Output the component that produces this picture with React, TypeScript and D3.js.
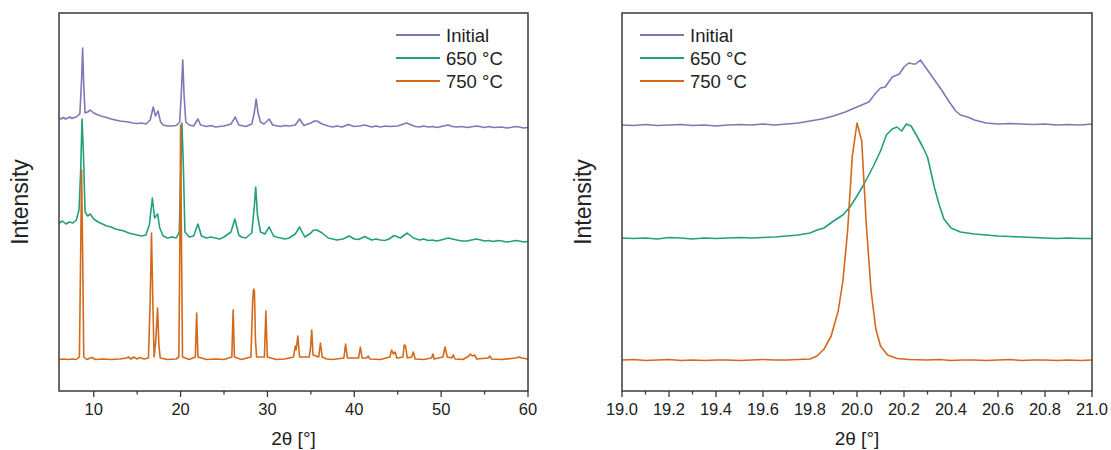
import React, { useRef, useEffect } from 'react';
import * as d3 from 'd3';

type Pt = [number, number];

// Full pattern, 2θ (deg) vs intensity (a.u., curves stacked)
const wideInitial: Pt[] = [
  [6.0, 273], [6.25, 272], [6.5, 273.5], [6.75, 272], [7.0, 273], [7.25, 274], [7.5, 272.5], [7.75, 273.5],
  [8.0, 274], [8.4, 277], [8.6, 311], [8.72, 343], [8.85, 306], [9.0, 278], [9.3, 279], [9.6, 281],
  [10.0, 278], [10.5, 276], [11.0, 274.5], [11.5, 273.5], [12.0, 272], [12.5, 271], [13.0, 270],
  [13.5, 269.5], [14.0, 269], [14.5, 268], [15.0, 267.5], [15.5, 268], [16.0, 267], [16.5, 271],
  [16.85, 284], [17.1, 275], [17.4, 280], [17.7, 269], [18.0, 266], [18.5, 265], [19.0, 265],
  [19.5, 265.5], [19.9, 269], [20.1, 301], [20.25, 331], [20.4, 296], [20.6, 269], [21.0, 266],
  [21.5, 265], [22.0, 272], [22.3, 266], [23.0, 264.5], [23.5, 265.5], [24.0, 264], [25.0, 265],
  [25.8, 267], [26.3, 274], [26.7, 266], [27.5, 264.5], [28.2, 267], [28.5, 279], [28.7, 292],
  [28.9, 279], [29.2, 269], [29.6, 267], [30.2, 272], [30.6, 266], [31.5, 264.5], [32.0, 265.5],
  [32.5, 265], [33.2, 266], [33.7, 272], [34.2, 265.5], [35.0, 268], [35.4, 270], [35.7, 270],
  [36.3, 267], [37.0, 265], [37.5, 264], [38.0, 265], [38.6, 264], [39.3, 266.5], [40.0, 264.5],
  [40.6, 265], [41.2, 266], [42.0, 264], [42.5, 265], [43.0, 264], [43.6, 265], [44.0, 264.5],
  [45.0, 265], [46.0, 268], [46.6, 266], [47.0, 264.5], [47.5, 264], [48.0, 265], [48.5, 264],
  [49.0, 264.5], [49.5, 263.5], [50.8, 266], [51.3, 264.5], [51.8, 264], [52.4, 264.5],
  [53.0, 263.5], [54.1, 265], [55.0, 263.5], [55.5, 264.5], [56.0, 263.5], [57.0, 264],
  [57.5, 263], [58.0, 263.5], [58.5, 264.5], [59.0, 264], [59.5, 263], [60.0, 263.5],
];

const wide650: Pt[] = [
  [6.0, 168], [6.4, 170], [6.8, 167], [7.2, 169], [7.6, 168], [8.0, 171], [8.3, 181], [8.5, 221],
  [8.65, 272], [8.8, 241], [9.0, 179], [9.3, 175], [9.6, 177], [10.0, 172], [10.5, 169], [11.0, 167],
  [11.5, 165], [12.0, 164], [12.5, 162], [13.0, 161], [13.5, 160], [14.0, 158], [14.5, 157],
  [15.0, 156], [15.5, 155], [16.0, 156], [16.4, 166], [16.75, 193], [17.0, 173], [17.35, 177],
  [17.6, 163], [18.0, 155], [18.5, 153], [19.0, 154], [19.5, 153], [19.85, 159], [20.05, 231],
  [20.15, 268], [20.3, 231], [20.5, 159], [21.0, 154], [21.5, 155], [22.0, 167], [22.4, 155],
  [23.0, 153], [23.5, 154], [24.0, 153], [24.5, 152], [25.0, 154], [25.8, 159], [26.25, 172],
  [26.7, 156], [27.0, 154], [27.5, 153], [28.2, 158], [28.5, 186], [28.65, 204], [28.85, 176],
  [29.2, 159], [29.7, 157], [30.2, 164], [30.7, 155], [31.0, 154], [31.5, 153], [32.0, 152],
  [32.5, 153], [33.2, 157], [33.7, 164], [34.3, 154], [35.0, 158], [35.3, 161], [35.7, 161],
  [36.3, 158], [37.0, 153], [37.5, 152], [38.0, 151], [38.7, 152], [39.4, 155], [40.0, 152],
  [40.5, 151.5], [41.2, 154.5], [42.0, 151], [42.5, 152], [43.0, 151], [43.5, 150.5], [44.0, 152],
  [44.6, 155.5], [45.3, 153], [46.1, 158], [46.8, 153], [47.5, 151], [48.0, 152], [48.5, 150.5],
  [49.0, 151], [49.5, 150], [50.2, 151.5], [50.8, 153], [51.3, 152], [51.8, 151], [52.4, 150],
  [53.0, 150], [53.5, 151], [54.1, 152], [55.0, 150], [55.5, 150.5], [56.0, 149.5], [56.5, 150.5],
  [57.0, 150], [57.5, 149], [58.0, 149.5], [58.5, 150.5], [59.0, 150], [59.5, 149], [60.0, 149.5],
];

const wide750: Pt[] = [
  [6.0, 31.5], [6.5, 32], [7.0, 31.5], [7.5, 32], [8.0, 31.5], [8.35, 34], [8.5, 141], [8.6, 221],
  [8.72, 141], [8.85, 34], [9.2, 31.5], [9.77, 33.5], [10.2, 31.5], [11.0, 32], [12.0, 31.5],
  [13.0, 32], [13.8, 33], [14.0, 34], [14.3, 32], [14.6, 34], [15.0, 32], [15.3, 33.5], [15.8, 32],
  [16.3, 33], [16.5, 91], [16.65, 158], [16.8, 91], [16.95, 34], [17.15, 51], [17.35, 83],
  [17.5, 46], [17.65, 33], [18.5, 31.5], [19.5, 32], [19.8, 34], [19.92, 151], [20.0, 266],
  [20.1, 151], [20.22, 34], [21.0, 31.5], [21.7, 34], [21.85, 78], [22.0, 34], [23.0, 31.5],
  [24.0, 32], [25.0, 31.5], [25.9, 34], [26.05, 81], [26.2, 34], [27.0, 31.5], [28.1, 34],
  [28.3, 91], [28.4, 102], [28.5, 100], [28.62, 51], [28.75, 34], [29.65, 34], [29.82, 80],
  [29.98, 34], [31.0, 31.5], [32.0, 32], [33.0, 34], [33.2, 45], [33.3, 41], [33.5, 55], [33.7, 34],
  [34.8, 34], [34.95, 42], [35.1, 61], [35.25, 36], [35.9, 34], [36.1, 48], [36.3, 34], [36.8, 32],
  [37.5, 31.5], [38.8, 33], [39.0, 47], [39.2, 33], [40.5, 33], [40.7, 44], [40.9, 33], [41.4, 33],
  [41.6, 35], [41.8, 32], [43.0, 31.5], [44.1, 34], [44.3, 41], [44.5, 37], [44.7, 39], [44.9, 33],
  [45.6, 34], [45.75, 46], [45.9, 45], [46.1, 33], [46.6, 34], [46.8, 39], [47.0, 32], [48.0, 31.5],
  [48.9, 33], [49.05, 37], [49.2, 32], [50.2, 34], [50.45, 44], [50.7, 34], [51.2, 33], [51.4, 36],
  [51.6, 32], [52.5, 31.5], [53.2, 35], [53.35, 37], [53.6, 35], [53.85, 36], [54.1, 32], [55.4, 33],
  [55.6, 35], [55.8, 32], [57.0, 31.5], [58.6, 33], [58.95, 34], [59.3, 33], [60.0, 32],
];

// Zoom on the 20° reflection
const zoomInitial: Pt[] = [
  [19.0, 266], [19.05, 265.5], [19.1, 266.5], [19.15, 265.5], [19.2, 266], [19.25, 266.5],
  [19.3, 265.5], [19.35, 266], [19.4, 265], [19.45, 266], [19.5, 266.5], [19.55, 266], [19.6, 267],
  [19.65, 266], [19.7, 267], [19.75, 268], [19.8, 270], [19.85, 272], [19.9, 275], [19.95, 279],
  [20.0, 284], [20.05, 289], [20.08, 298], [20.1, 303], [20.12, 304], [20.15, 314], [20.18, 317],
  [20.2, 324], [20.22, 328], [20.24, 327], [20.25, 327], [20.27, 331], [20.3, 321], [20.33, 311],
  [20.36, 301], [20.39, 290], [20.42, 280], [20.44, 276], [20.47, 274], [20.5, 271], [20.55, 268],
  [20.6, 267], [20.65, 267.5], [20.7, 267], [20.75, 266.5], [20.8, 267], [20.85, 266],
  [20.9, 266.5], [20.95, 266], [21.0, 267],
];

const zoom650: Pt[] = [
  [19.0, 153], [19.05, 152.5], [19.1, 153], [19.15, 152], [19.2, 153.5], [19.25, 153], [19.3, 152],
  [19.35, 153], [19.4, 152.5], [19.45, 153], [19.5, 153.5], [19.55, 153], [19.6, 153.5],
  [19.65, 154], [19.7, 155], [19.75, 156], [19.8, 158], [19.83, 161], [19.86, 163], [19.9, 170],
  [19.94, 176], [19.97, 184], [20.0, 195], [20.03, 207], [20.07, 225], [20.1, 240], [20.125, 256],
  [20.15, 262], [20.17, 264], [20.19, 260], [20.21, 267], [20.23, 265], [20.25, 257], [20.28, 244],
  [20.3, 234], [20.33, 203], [20.35, 186], [20.37, 172], [20.4, 163], [20.44, 159], [20.5, 157],
  [20.55, 156], [20.6, 155], [20.65, 154.5], [20.7, 154], [20.75, 153.5], [20.8, 153],
  [20.85, 152.5], [20.9, 153], [20.95, 152.5], [21.0, 152.5],
];

const zoom750: Pt[] = [
  [19.0, 31], [19.05, 31.5], [19.1, 30.5], [19.15, 31], [19.2, 31.5], [19.25, 30.5], [19.3, 31],
  [19.35, 30.5], [19.4, 31], [19.45, 31], [19.5, 30.5], [19.55, 31], [19.6, 31.5], [19.65, 31],
  [19.7, 31], [19.75, 31.5], [19.8, 32], [19.83, 35], [19.86, 42], [19.89, 55], [19.92, 80],
  [19.94, 110], [19.96, 160], [19.98, 235], [20.0, 268], [20.02, 250], [20.04, 165], [20.06, 100],
  [20.08, 62], [20.1, 45], [20.13, 36], [20.17, 32.5], [20.22, 31.5], [20.3, 31], [20.35, 31.5],
  [20.4, 30.5], [20.45, 31], [20.5, 31], [20.55, 30.5], [20.6, 31], [20.65, 31.5], [20.7, 30.5],
  [20.75, 31], [20.8, 31], [20.85, 30.5], [20.9, 31], [20.95, 30.5], [21.0, 31],
];

const seriesNames = ['Initial', '650 °C', '750 °C'];
const wideTicks = [10, 20, 30, 40, 50, 60];
const wideMinorTicks = [15, 25, 35, 45, 55];
const zoomTicks = [19.0, 19.2, 19.4, 19.6, 19.8, 20.0, 20.2, 20.4, 20.6, 20.8, 21.0];
const zoomMinorTicks = [19.1, 19.3, 19.5, 19.7, 19.9, 20.1, 20.3, 20.5, 20.7, 20.9];

const COLORS = ['#7f78b6', '#22a07c', '#d4691c'];
const FONT = '"Liberation Sans", Arial, sans-serif';
const AXIS = '#3a3a3a';

type PanelOpts = {
  left: number;
  right: number;
  domain: [number, number];
  series: Pt[][];
  ticks: number[];
  minor: number[];
  fmt: (v: number) => string;
  legendX: number;
};

const TOP = 13;
const BOTTOM = 391;

function drawPanel(svg: d3.Selection<SVGSVGElement, unknown, null, undefined>, o: PanelOpts) {
  const x = d3.scaleLinear().domain(o.domain).range([o.left, o.right]);
  const y = d3.scaleLinear().domain([0, 378]).range([BOTTOM, TOP]);
  const g = svg.append('g');

  const line = d3.line<Pt>()
    .x(d => x(d[0]))
    .y(d => y(d[1]));

  o.series.forEach((s, i) => {
    g.append('path')
      .datum(s)
      .attr('d', line)
      .attr('fill', 'none')
      .attr('stroke', COLORS[i])
      .attr('stroke-width', 1.6)
      .attr('stroke-linejoin', 'round');
  });

  // frame
  g.append('rect')
    .attr('x', o.left).attr('y', TOP)
    .attr('width', o.right - o.left).attr('height', BOTTOM - TOP)
    .attr('fill', 'none')
    .attr('stroke', AXIS)
    .attr('stroke-width', 1.5);

  // ticks
  o.ticks.forEach(t => {
    g.append('line')
      .attr('x1', x(t)).attr('x2', x(t))
      .attr('y1', BOTTOM).attr('y2', BOTTOM + 6)
      .attr('stroke', AXIS).attr('stroke-width', 1.3);
    g.append('text')
      .attr('x', x(t)).attr('y', BOTTOM + 24)
      .attr('text-anchor', 'middle')
      .attr('font-family', FONT)
      .attr('font-size', 16.5)
      .attr('fill', '#222')
      .text(o.fmt(t));
  });
  o.minor.forEach(t => {
    g.append('line')
      .attr('x1', x(t)).attr('x2', x(t))
      .attr('y1', BOTTOM).attr('y2', BOTTOM + 3.5)
      .attr('stroke', AXIS).attr('stroke-width', 1.3);
  });

  // axis titles
  g.append('text')
    .attr('x', (o.left + o.right) / 2).attr('y', 445)
    .attr('text-anchor', 'middle')
    .attr('font-family', FONT)
    .attr('font-size', 19)
    .attr('fill', '#222')
    .text('2θ [°]');
  g.append('text')
    .attr('transform', `translate(${o.left - 31}, ${(TOP + BOTTOM) / 2}) rotate(-90)`)
    .attr('text-anchor', 'middle')
    .attr('font-family', FONT)
    .attr('font-size', 23)
    .attr('fill', '#222')
    .text('Intensity');

  // legend
  seriesNames.forEach((name, i) => {
    const ly = 35 + i * 23;
    g.append('line')
      .attr('x1', o.legendX).attr('x2', o.legendX + 44)
      .attr('y1', ly).attr('y2', ly)
      .attr('stroke', COLORS[i])
      .attr('stroke-width', 2);
    g.append('text')
      .attr('x', o.legendX + 50).attr('y', ly)
      .attr('dy', '0.36em')
      .attr('font-family', FONT)
      .attr('font-size', 18.5)
      .attr('fill', '#222')
      .text(name);
  });
}

export default function App() {
  const svgRef = useRef<SVGSVGElement>(null);

  useEffect(() => {
    const svg = d3.select(svgRef.current as SVGSVGElement);
    svg.selectAll('*').remove();

    drawPanel(svg, {
      left: 59, right: 528, domain: [6, 60],
      series: [wideInitial, wide650, wide750],
      ticks: wideTicks, minor: wideMinorTicks,
      fmt: d3.format('d'), legendX: 396,
    });
    drawPanel(svg, {
      left: 622, right: 1092, domain: [19, 21],
      series: [zoomInitial, zoom650, zoom750],
      ticks: zoomTicks, minor: zoomMinorTicks,
      fmt: d3.format('.1f'), legendX: 640,
    });
  }, []);

  return (
    <svg
      ref={svgRef}
      width={1111}
      height={450}
      style={{ position: 'absolute', left: 0, top: 0, background: '#fff' }}
    />
  );
}
